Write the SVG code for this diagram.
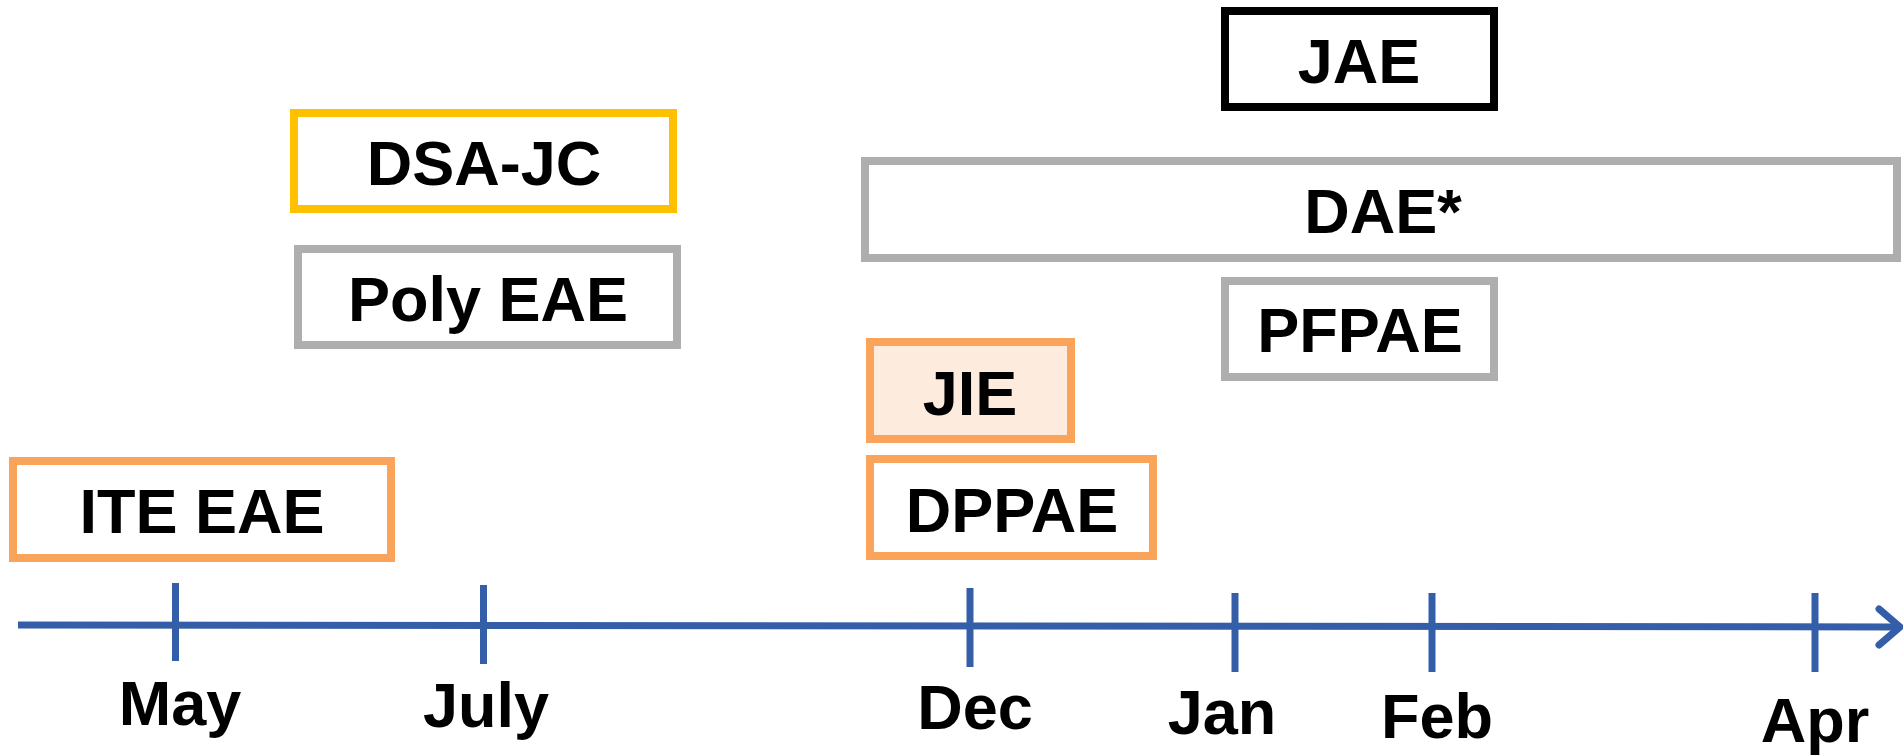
<svg xmlns="http://www.w3.org/2000/svg" width="1903" height="756" viewBox="0 0 1903 756">
<style>
.box{fill:#fff;stroke-width:8}
.lbl{font-family:"Liberation Sans",Arial,sans-serif;font-weight:bold;font-size:63px;fill:#000;text-anchor:middle}
.ax{stroke:#355EA9;stroke-width:7;fill:none}
.orange{stroke:#F9A35B}
.gray{stroke:#AEAEAE}
.yellow{stroke:#FFC000}
.black{stroke:#000}
</style>
<rect width="1903" height="756" fill="#fff"/>
<g id="connectors">
<line class="ax" x1="18" y1="625" x2="1898" y2="627"/>
<polyline class="ax" points="1879,609 1900,627 1879,645" stroke-linecap="round" stroke-linejoin="round"/>
<line class="ax" x1="175.5" y1="583" x2="175.5" y2="661"/>
<line class="ax" x1="483.5" y1="585" x2="483.5" y2="664"/>
<line class="ax" x1="970" y1="588" x2="970" y2="667"/>
<line class="ax" x1="1235" y1="593" x2="1235" y2="672"/>
<line class="ax" x1="1432" y1="593" x2="1432" y2="672"/>
<line class="ax" x1="1815" y1="593" x2="1815" y2="672"/>
</g>
<g id="axis-labels">
<text class="lbl" x="180" y="725">May</text>
<text class="lbl" x="486" y="727">July</text>
<text class="lbl" x="975" y="729">Dec</text>
<text class="lbl" x="1222" y="734">Jan</text>
<text class="lbl" x="1437" y="738">Feb</text>
<text class="lbl" x="1815" y="742">Apr</text>
</g>
<g id="ite-eae"><rect class="box orange" x="13" y="461" width="378" height="97"/><text class="lbl" x="202" y="533">ITE EAE</text></g>
<g id="dsa-jc"><rect class="box yellow" x="294" y="113" width="379" height="96"/><text class="lbl" x="484" y="185">DSA-JC</text></g>
<g id="poly-eae"><rect class="box gray" x="298" y="249" width="379" height="96"/><text class="lbl" x="488" y="321">Poly EAE</text></g>
<g id="jae"><rect class="box black" x="1225" y="11" width="269" height="96"/><text class="lbl" x="1359" y="83">JAE</text></g>
<g id="dae"><rect class="box gray" x="865" y="161" width="1032" height="97"/><text class="lbl" x="1383" y="233">DAE*</text></g>
<g id="pfpae"><rect class="box gray" x="1225" y="281" width="269" height="96"/><text class="lbl" x="1360" y="352">PFPAE</text></g>
<g id="jie"><rect class="box orange" x="870" y="342" width="201" height="97" style="fill:#FDEBDD"/><text class="lbl" x="970" y="415">JIE</text></g>
<g id="dppae"><rect class="box orange" x="870" y="459" width="283" height="97"/><text class="lbl" x="1012" y="532">DPPAE</text></g>
</svg>
